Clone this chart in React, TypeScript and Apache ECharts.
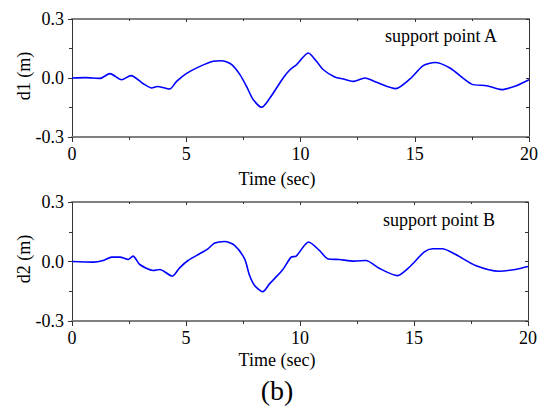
import React, { useEffect, useRef } from "react";
import * as echarts from "echarts";

const timeA = [0, 0.6, 1.22, 1.66, 2.17, 2.58, 3.12, 3.49, 3.73, 4.27, 4.58, 5.0, 5.6, 6.18, 6.55, 6.99, 7.35, 7.64, 7.93, 8.3, 8.66, 9.24, 9.54, 9.83, 10.34, 10.7, 11.0, 11.5, 11.87, 12.3, 12.82, 13.33, 14.17, 14.79, 15.37, 15.88, 16.54, 17.49, 18.14, 18.8, 19.45, 20];
const dispA = [0, 0.002, -0.002, 0.022, -0.009, 0.012, -0.029, -0.051, -0.043, -0.056, -0.017, 0.022, 0.059, 0.085, 0.088, 0.068, 0.017, -0.043, -0.11, -0.149, -0.102, 0.0, 0.042, 0.068, 0.127, 0.085, 0.042, 0.005, -0.005, -0.017, 0.0, -0.022, -0.054, -0.005, 0.063, 0.079, 0.051, -0.031, -0.039, -0.059, -0.039, -0.009];

const timeB = [0, 0.93, 1.37, 1.74, 2.1, 2.46, 2.68, 2.97, 3.56, 3.85, 4.4, 4.72, 5.09, 5.6, 5.96, 6.26, 6.69, 7.13, 7.57, 7.79, 8.01, 8.37, 8.66, 9.24, 9.61, 9.83, 10.38, 10.85, 11.21, 11.72, 12.37, 12.89, 13.47, 14.27, 14.79, 15.44, 15.81, 16.24, 16.83, 17.7, 18.72, 19.45, 20];
const dispB = [0, -0.003, 0.005, 0.022, 0.022, 0.01, 0.027, -0.015, -0.045, -0.04, -0.074, -0.032, 0.005, 0.039, 0.064, 0.093, 0.101, 0.081, 0.013, -0.071, -0.121, -0.152, -0.113, -0.042, 0.022, 0.027, 0.098, 0.056, 0.014, 0.01, 0.002, 0.005, -0.034, -0.071, -0.029, 0.047, 0.064, 0.064, 0.035, -0.02, -0.049, -0.04, -0.025];

const xTicks = { min: 0, max: 20, interval: 5 };
const yTicks = { min: -0.3, max: 0.3, interval: 0.3 };

const FONT = "'Liberation Serif', 'Times New Roman', serif";

export default function App() {
  const ref = useRef<HTMLDivElement>(null);
  useEffect(() => {
    if (!ref.current) return;
    const chart = echarts.init(ref.current, undefined, { renderer: "svg" });
    const grids = [
      { left: 72, top: 19, width: 457, height: 118 },
      { left: 72, top: 202, width: 456, height: 119 },
    ];
    const xAxes: any[] = [];
    const yAxes: any[] = [];
    grids.forEach((_, gi) => {
      xAxes.push({
        type: "value",
        gridIndex: gi,
        position: "bottom",
        ...xTicks,
        axisLine: { onZero: false, lineStyle: { color: "#808080", width: 2 } },
        axisTick: { inside: false, length: 5, lineStyle: { color: "#333", width: 1 } },
        minorTick: { show: true, splitNumber: 2, length: 3, lineStyle: { color: "#333", width: 1 } },
        splitLine: { show: false },
        axisLabel: { color: "#000", fontFamily: FONT, fontSize: 18, margin: 8 },
      });
      xAxes.push({
        type: "value",
        gridIndex: gi,
        position: "top",
        ...xTicks,
        axisLine: { onZero: false, lineStyle: { color: "#808080", width: 2 } },
        axisTick: { inside: true, length: 3, lineStyle: { color: "#333", width: 1 } },
        minorTick: { show: true, splitNumber: 2, length: 2, lineStyle: { color: "#333", width: 1 } },
        splitLine: { show: false },
        axisLabel: { show: false },
      });
      yAxes.push({
        type: "value",
        gridIndex: gi,
        position: "left",
        ...yTicks,
        axisLine: { show: true, onZero: false, lineStyle: { color: "#333", width: 1 } },
        axisTick: { show: true, inside: false, length: 4, lineStyle: { color: "#333", width: 1 } },
        minorTick: { show: true, splitNumber: 2, length: 3, lineStyle: { color: "#333", width: 1 } },
        splitLine: { show: false },
        axisLabel: { color: "#000", fontFamily: FONT, fontSize: 18, margin: 8, formatter: (v: number) => v.toFixed(1) },
      });
      yAxes.push({
        type: "value",
        gridIndex: gi,
        position: "right",
        ...yTicks,
        axisLine: { show: true, onZero: false, lineStyle: { color: "#333", width: 1 } },
        axisTick: { show: true, inside: true, length: 3, lineStyle: { color: "#333", width: 1 } },
        minorTick: { show: true, splitNumber: 2, length: 3, lineStyle: { color: "#333", width: 1 } },
        splitLine: { show: false },
        axisLabel: { show: false },
      });
    });
    const txt = (text: string, x: number, y: number, size: number, align: string, rot = 0) => ({
      type: "text",
      x,
      y,
      rotation: rot,
      style: {
        text,
        font: `normal ${size}px ${FONT}`,
        fill: "#000",
        textAlign: align,
        textVerticalAlign: "middle",
      },
    });
    chart.setOption({
      animation: false,
      grid: grids,
      xAxis: xAxes,
      yAxis: yAxes,
      series: [
        {
          type: "line",
          xAxisIndex: 0,
          yAxisIndex: 0,
          data: timeA.map((t, i) => [t, dispA[i]]),
          showSymbol: false,
          smooth: 0.25,
          lineStyle: { color: "#0000ff", width: 1.6 },
        },
        {
          type: "line",
          xAxisIndex: 2,
          yAxisIndex: 2,
          data: timeB.map((t, i) => [t, dispB[i]]),
          showSymbol: false,
          smooth: 0.25,
          lineStyle: { color: "#0000ff", width: 1.6 },
        },
      ],
      graphic: [
        txt("Time (sec)", 277, 179, 18, "center"),
        txt("Time (sec)", 277, 360, 18, "center"),
        txt("(b)", 277, 390, 28, "center"),
        txt("d1 (m)", 24, 76, 18, "center", Math.PI / 2),
        txt("d2 (m)", 24, 259, 18, "center", Math.PI / 2),
        txt("support point A", 385, 36, 18, "left"),
        txt("support point B", 383, 220, 18, "left"),
      ],
    });
    return () => chart.dispose();
  }, []);
  return <div ref={ref} style={{ position: "absolute", left: 0, top: 0, width: 547, height: 414 }} />;
}
